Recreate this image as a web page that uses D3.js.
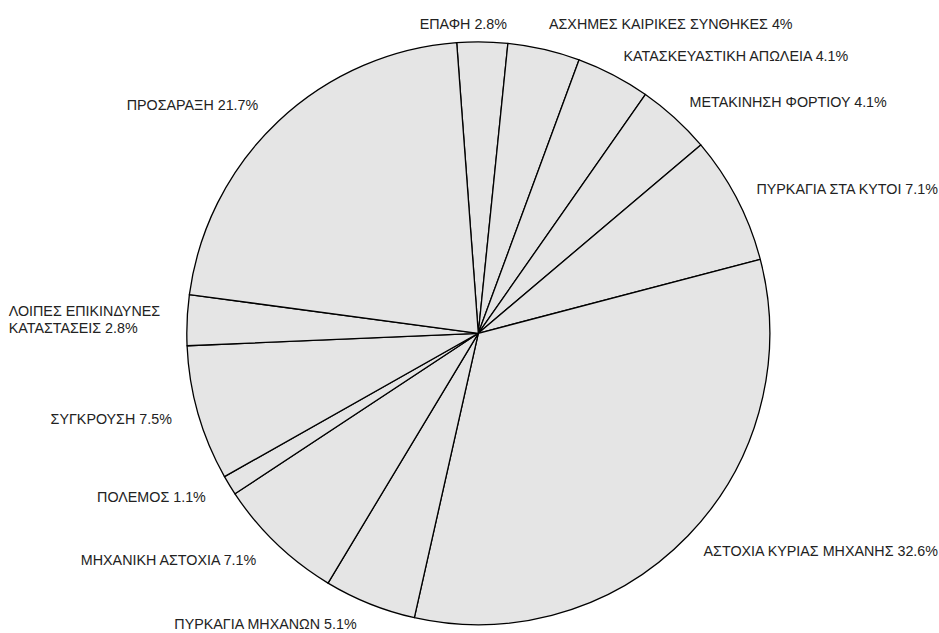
<!DOCTYPE html>
<html lang="el">
<head>
  <meta charset="UTF-8">
  <title>Αίτια ατυχημάτων</title>
  <script src="https://d3js.org/d3.v7.min.js"></script>
  <style>
    body {
      margin: 0;
      background: #fff;
    }
    svg text {
      font-family: "Liberation Sans", Arial, sans-serif;
      font-size: 14.3px;
      fill: #222;
    }
  </style>
</head>
<body>
  <div id="chart"></div>

  <script>
    // slices in drawing order (clockwise from the top)
    const categories = [
      "ΕΠΑΦΗ",
      "ΑΣΧΗΜΕΣ ΚΑΙΡΙΚΕΣ ΣΥΝΘΗΚΕΣ",
      "ΚΑΤΑΣΚΕΥΑΣΤΙΚΗ ΑΠΩΛΕΙΑ",
      "ΜΕΤΑΚΙΝΗΣΗ ΦΟΡΤΙΟΥ",
      "ΠΥΡΚΑΓΙΑ ΣΤΑ ΚΥΤΟΙ",
      "ΑΣΤΟΧΙΑ ΚΥΡΙΑΣ ΜΗΧΑΝΗΣ",
      "ΠΥΡΚΑΓΙΑ ΜΗΧΑΝΩΝ",
      "ΜΗΧΑΝΙΚΗ ΑΣΤΟΧΙΑ",
      "ΠΟΛΕΜΟΣ",
      "ΣΥΓΚΡΟΥΣΗ",
      "ΛΟΙΠΕΣ ΕΠΙΚΙΝΔΥΝΕΣ ΚΑΤΑΣΤΑΣΕΙΣ",
      "ΠΡΟΣΑΡΑΞΗ"
    ];
    const percents = [2.8, 4, 4.1, 4.1, 7.1, 32.6, 5.1, 7.1, 1.1, 7.5, 2.8, 21.7];

    const width = 939;
    const height = 633;
    const cx = 478.3, cy = 333.3;
    const radius = 291.5;
    const labelRadius = radius + 22;
    const leftPad = 5;
    const startAngle = -4.25 * Math.PI / 180;

    const data = categories.map((c, i) => ({ name: c, value: percents[i] }));

    const pie = d3.pie()
      .sort(null)
      .value(d => d.value)
      .startAngle(startAngle)
      .endAngle(startAngle + 2 * Math.PI);

    const arc = d3.arc().innerRadius(0).outerRadius(radius);

    const svg = d3.select("#chart")
      .append("svg")
      .attr("width", width)
      .attr("height", height);

    const g = svg.append("g").attr("transform", `translate(${cx},${cy})`);

    const arcs = pie(data);

    g.selectAll("path.slice")
      .data(arcs)
      .enter()
      .append("path")
      .attr("class", "slice")
      .attr("d", arc)
      .attr("fill", "#e5e5e5")
      .attr("stroke", "#000")
      .attr("stroke-width", 1.3)
      .attr("stroke-linejoin", "round");

    // labels: placed at mid angle just outside the pie
    const measure = svg.append("text").attr("visibility", "hidden");
    function textWidth(s) {
      measure.text(s);
      return measure.node().getComputedTextLength();
    }

    const lineH = 17;
    const labels = arcs.map(d => {
      const a = (d.startAngle + d.endAngle) / 2;
      const right = Math.sin(a) >= 0;
      const px = cx + labelRadius * Math.sin(a) - (right ? 0 : leftPad);
      const py = cy - labelRadius * Math.cos(a);
      const full = d.data.name + " " + d.data.value + "%";
      let lines = [full];
      // left side: wrap when the label would leave the picture
      const room = px - 2;
      if (!right && textWidth(full) > room) {
        const words = full.split(" ");
        lines = [];
        let cur = "";
        words.forEach(w => {
          const t = cur ? cur + " " + w : w;
          if (textWidth(t) > room && cur) {
            lines.push(cur);
            cur = w;
          } else {
            cur = t;
          }
        });
        if (cur) lines.push(cur);
      }
      const w = d3.max(lines, l => textWidth(l));
      let x0 = right ? px : px - w;
      // right side: slide back inside the picture
      if (x0 + w > width - 1) x0 = width - 1 - w;
      if (x0 < 2) x0 = 2;
      return { lines, x0, w, y: py, h: lines.length * lineH, right };
    });

    // push apart labels that share the same row near the top
    for (let i = 0; i < labels.length; i++) {
      for (let j = 0; j < labels.length; j++) {
        if (i === j) continue;
        const A = labels[i], B = labels[j];
        const sameRow = Math.abs(A.y - B.y) < (A.h + B.h) / 2;
        if (sameRow && A.x0 < B.x0 && A.x0 + A.w > B.x0 - 4) {
          A.x0 = B.x0 - 42 - A.w;
          const yy = (A.y + B.y) / 2;
          A.y = yy; B.y = yy;
        }
      }
    }

    measure.remove();

    labels.forEach(L => {
      const t = svg.append("text")
        .attr("x", L.x0)
        .attr("y", L.y - (L.lines.length - 1) * lineH / 2)
        .attr("dominant-baseline", "central");
      L.lines.forEach((l, k) => {
        t.append("tspan")
          .attr("x", L.x0)
          .attr("dy", k === 0 ? 0 : lineH)
          .text(l);
      });
    });
  </script>
</body>
</html>
